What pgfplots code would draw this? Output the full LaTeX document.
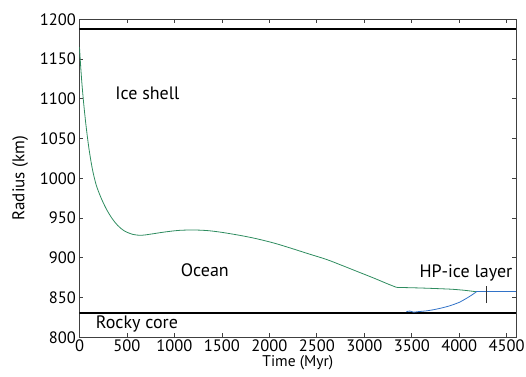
\documentclass[border=0pt]{standalone}
\usepackage{fontspec}
\setmainfont{PT Sans}
\usepackage{pgfplots}
\pgfplotsset{compat=1.18}
\definecolor{grn}{RGB}{46,140,95}
\definecolor{blu}{RGB}{50,115,200}
\begin{document}
\begin{tikzpicture}
\begin{axis}[
  name=ax, at={(0,0)}, anchor=south west,
  scale only axis, width=436.7pt, height=318pt,
  xmin=0, xmax=4600, ymin=800, ymax=1200,
  xtick={0,500,...,4500}, ytick={800,850,...,1200},
  tick align=inside, tick pos=both,
  major tick length=4pt,
  axis line style={draw=black!75, line width=0.9pt},
  every tick/.style={black!75, line width=0.8pt},
  /pgf/number format/assume math mode=true,
  /pgf/number format/1000 sep={},
  tick label style={font=\fontsize{16.5}{18}\selectfont},
  xticklabel style={yshift=1pt},
  yticklabel style={xshift=0pt},
  label style={font=\fontsize{17}{19}\selectfont},
  xlabel={Time (Myr)}, ylabel={Radius (km)},
  xlabel style={font=\fontsize{15.5}{17}\selectfont, yshift=1pt, inner sep=1pt},
  ylabel style={yshift=5pt},
  clip=true,
]
\addplot[black, line width=2pt] coordinates {(0,1188) (4600,1188)};
\addplot[black, line width=2pt] coordinates {(0,830) (4600,830)};
\addplot[grn, line width=0.8pt, smooth, tension=0.5] coordinates {
(0,1165)(10,1145)(25,1120)(45,1093)(70,1065)(100,1037)(135,1012)(175,992)(225,976)(280,962)(340,950)(400,941)(470,934)(560,929.5)(650,928.3)(750,929.8)(900,932.5)(1050,934.5)(1200,935)(1350,934.2)(1500,932)(1700,928)(1865,924)(2050,918.5)(2216,912.5)(2400,905.5)(2600,898)(2742,891.5)(2900,884)(3100,874.5)(3250,867)(3340,862.8)};
\addplot[grn, line width=0.8pt, smooth, tension=0.4] coordinates {
(3340,862.8)(3600,862)(3900,860.6)(4050,859.2)(4181,857.3)};
\addplot[blu, line width=0.8pt, smooth, tension=0.4] coordinates {
(3444,832.3)(3480,833)(3520,831.6)(3560,832.2)(3650,833.2)(3724,834.6)(3800,836.5)(3900,839.6)(4000,844)(4076,849)(4130,853)(4181,857.3)};
\addplot[blu, line width=0.8pt] coordinates {(4181,857.3)(4600,857.3)};
\addplot[black!80, line width=0.7pt] coordinates {(4290,843)(4290,864)};
\node[font=\fontsize{18}{20}\selectfont] at (axis cs:715,1107) {Ice shell};
\node[font=\fontsize{18}{20}\selectfont] at (axis cs:1320,885) {Ocean};
\node[font=\fontsize{18}{20}\selectfont] at (axis cs:4070,881) {HP-ice layer};
\node[font=\fontsize{18}{20}\selectfont] at (axis cs:605,817) {Rocky core};
\end{axis}
\pgfresetboundingbox
\path[use as bounding box] (-79.5pt,-38.7pt) rectangle (446.5pt,337.3pt);
\end{tikzpicture}
\end{document}
